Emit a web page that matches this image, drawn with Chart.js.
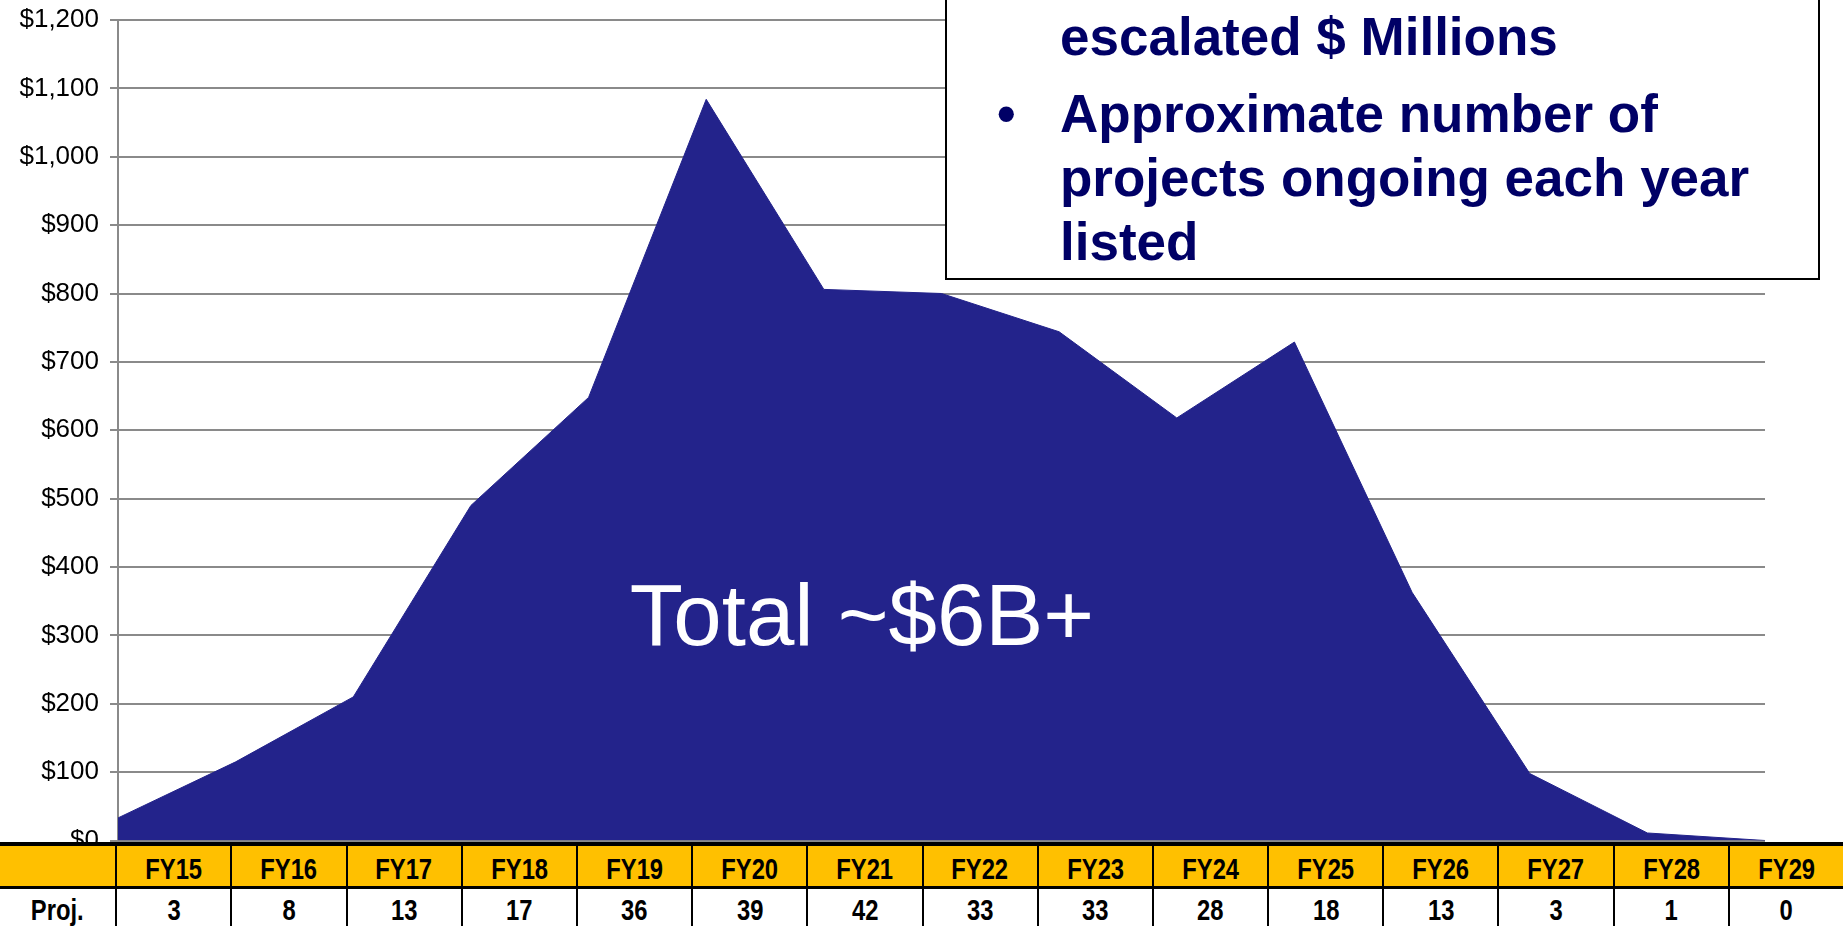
<!DOCTYPE html>
<html>
<head>
<meta charset="utf-8">
<title>Projected spend by fiscal year</title>
<script src="https://cdn.jsdelivr.net/npm/chart.js@4.4.1/dist/chart.umd.min.js"></script>
<style>
    html, body { margin: 0; padding: 0; background: #fff; overflow: hidden; }
    #wrap { position: relative; width: 1843px; height: 926px; overflow: hidden; font-family: "Liberation Sans", Arial, sans-serif; }
    #chart { position: absolute; left: 0; top: 0; }
    .total { position: absolute; left: 862px; top: 571px; transform: translateX(-50%); font-size: 87px; line-height: 1; color: #fff; white-space: nowrap; }
    .note { position: absolute; left: 945px; top: -10px; width: 871px; height: 286px; border: 2px solid #000; background: #fff; color: #000066; font-weight: bold; font-size: 53px; line-height: 64px; }
    .note p { position: absolute; left: 113px; margin: 0; white-space: nowrap; }
    .note .bullet { position: absolute; top: 0; }
    .tbl { position: absolute; left: 0; top: 842px; width: 1843px; font-family: "Liberation Sans", Arial, sans-serif; font-weight: bold; font-size: 29px; color: #000; }
    .row { display: flex; }
    .row.head { background: #ffc000; border-top: 4px solid #000; border-bottom: 3px solid #000; height: 40px; line-height: 47px; }
    .row.proj { background: #fff; height: 44px; line-height: 43px; }
    .cell { box-sizing: border-box; width: 115.1875px; text-align: center; border-left: 2px solid #000; }
    .cell:first-child { border-left: none; }
    .cell span { display: inline-block; transform: scaleX(0.82); }
</style>
</head>
<body>
<div id="wrap">
    <canvas id="chart" width="1843" height="926"></canvas>
    <div class="total">Total ~$6B+</div>
    <div class="note">
        <p style="top:13px">escalated $ Millions</p>
        <p style="top:90px"><span class="bullet" style="left:-63px">•</span>Approximate number of<br>projects ongoing each year<br>listed</p>
    </div>
    <div class="tbl" id="tbl"></div>
</div>
<script>
// values
var fiscalYears = ['FY15', 'FY16', 'FY17', 'FY18', 'FY19', 'FY20', 'FY21', 'FY22', 'FY23', 'FY24', 'FY25', 'FY26', 'FY27', 'FY28', 'FY29'];
var spendMillions = [33, 115, 210, 490, 648, 1084, 806, 800, 744, 618, 729, 363, 98, 11, 0];
var projectCounts = [3, 8, 13, 17, 36, 39, 42, 33, 33, 28, 18, 13, 3, 1, 0];
var yTickValues = [0, 100, 200, 300, 400, 500, 600, 700, 800, 900, 1000, 1100, 1200];
var rowLabel = 'Proj.';

(function () {
    'use strict';

    var AREA = '#23238b';
    var GRID = '#8a8a8a';

    function cell(text) {
        return '<div class="cell"><span>' + text + '</span></div>';
    }

    function buildTable() {
        var tbl = document.getElementById('tbl');
        var head = '<div class="row head">' + cell('');
        var proj = '<div class="row proj">' + cell(rowLabel);
        for (var i = 0; i < fiscalYears.length; i++) {
            head += cell(fiscalYears[i]);
            proj += cell(projectCounts[i]);
        }
        tbl.innerHTML = head + '</div>' + proj + '</div>';
    }

    function buildChart() {
        var canvas = document.getElementById('chart');
        if (typeof Chart === 'undefined') {
            return;
        }
        Chart.defaults.font.family = '"Liberation Sans", Arial, sans-serif';

        new Chart(canvas, {
            type: 'line',
            data: {
                labels: fiscalYears,
                datasets: [{
                    label: 'Spend',
                    data: spendMillions,
                    fill: 'origin',
                    backgroundColor: AREA,
                    borderColor: AREA,
                    borderWidth: 1,
                    pointRadius: 0,
                    tension: 0
                }]
            },
            options: {
                responsive: false,
                animation: false,
                layout: {
                    padding: { top: 20, right: 78, bottom: 85.5, left: 0 }
                },
                plugins: {
                    legend: { display: false },
                    tooltip: { enabled: false }
                },
                scales: {
                    x: {
                        display: false,
                        offset: false
                    },
                    y: {
                        min: 0,
                        max: 1200,
                        afterBuildTicks: function (scale) {
                            scale.ticks = yTickValues.map(function (v) {
                                return { value: v };
                            });
                        },
                        afterFit: function (scale) {
                            // fixed axis width, and don't let the label padding push the top down
                            scale.width = 118;
                            scale.paddingTop = 15;
                            scale.paddingBottom = 15;
                        },
                        ticks: {
                            color: '#000',
                            padding: 11,
                            font: { size: 26 },
                            callback: function (v) {
                                return '$' + Number(v).toLocaleString('en-US');
                            }
                        },
                        grid: {
                            color: GRID,
                            lineWidth: 2,
                            tickLength: 8
                        },
                        border: {
                            color: GRID,
                            width: 2
                        }
                    }
                }
            }
        });
    }

    buildTable();
    buildChart();
})();
</script>
</body>
</html>
